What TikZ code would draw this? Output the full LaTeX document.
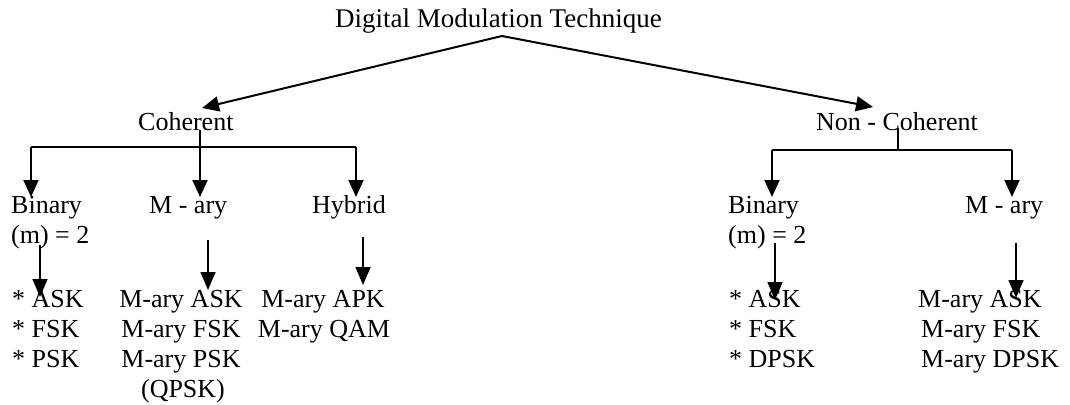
\documentclass[tikz,border=0pt]{standalone}
\usepackage{fontspec}
\setmainfont{Liberation Serif}
\usetikzlibrary{arrows.meta}
\begin{document}
\begin{tikzpicture}[x=1pt,y=-1pt,
  font=\fontsize{26}{30}\selectfont,
  lab/.style={inner sep=0pt,anchor=base west},
  labc/.style={inner sep=0pt,anchor=base},
  conn/.style={line width=2pt},
  arr/.style={line width=2pt,-{Triangle[length=17pt,width=15pt]}},
  thinarr/.style={line width=1.6pt,-{Triangle[length=18pt,width=15pt]}}]
\useasboundingbox (0,0) rectangle (1070,404);
% title
\node[lab,font=\fontsize{27}{30}\selectfont] (title) at (335,28) {Digital Modulation Technique};
% level 1
\node[lab] (coh) at (138,130) {Coherent};
\node[lab] (ncoh) at (816,130) {Non - Coherent};
% level 2 coherent
\node[lab] (bin1a) at (11,213) {Binary};
\node[lab] (bin1b) at (11,243) {(m) = 2};
\node[lab] (mary1) at (149,213) {M - ary};
\node[lab] (hyb) at (312,213) {Hybrid};
% level 2 non-coherent
\node[lab] (bin2a) at (728,213) {Binary};
\node[lab] (bin2b) at (728,243) {(m) = 2};
\node[lab] (mary2) at (965,213) {M - ary};
% level 3 coherent
\node[lab] (c1) at (12,307) {* ASK};
\node[lab] (c2) at (12,337) {* FSK};
\node[lab] (c3) at (12,367) {* PSK};
\node[labc] (m1) at (181,307) {M-ary ASK};
\node[labc] (m2) at (181,337) {M-ary FSK};
\node[labc] (m3) at (181,367) {M-ary PSK};
\node[labc] (m4) at (183,397) {(QPSK)};
\node[labc] (h1) at (323,307) {M-ary APK};
\node[labc] (h2) at (324,337) {M-ary QAM};
% level 3 non-coherent
\node[lab] (n1) at (729,307) {* ASK};
\node[lab] (n2) at (729,337) {* FSK};
\node[lab] (n3) at (729,367) {* DPSK};
\node[lab] (nm1) at (918,307) {M-ary ASK};
\node[lab] (nm2) at (921,337) {M-ary FSK};
\node[lab] (nm3) at (921,367) {M-ary DPSK};
% connector points
\coordinate (ts) at (502,36);
\coordinate (cohin) at (202,108);
\coordinate (ncohin) at (873,107);
\coordinate (cohout) at (200,130);
\coordinate (cbl) at (31,147);
\coordinate (cbm) at (200,147);
\coordinate (cbr) at (356,147);
\coordinate (bin1in) at (31,197);
\coordinate (mary1in) at (200,197);
\coordinate (hybin) at (356,197);
\coordinate (ncohout) at (898,128);
\coordinate (nbm) at (898,150);
\coordinate (nbl) at (772,150);
\coordinate (nbr) at (1012,150);
\coordinate (bin2in) at (772,197);
\coordinate (mary2in) at (1012,197);
\coordinate (b1s) at (40,245);
\coordinate (b1t) at (40,297);
\coordinate (m1s) at (208,240);
\coordinate (m1t) at (208,290);
\coordinate (h1s) at (363,237);
\coordinate (h1t) at (363,285);
\coordinate (b2s) at (775,243);
\coordinate (b2t) at (775,300);
\coordinate (m2s) at (1016,243);
\coordinate (m2t) at (1016,298);
% connectors
\draw[arr] (ts) -- (cohin);
\draw[arr] (ts) -- (ncohin);
\draw[arr] (cohout) -- (mary1in);
\draw[conn] (cbl) -- (cbr);
\draw[arr] (cbl) -- (bin1in);
\draw[arr] (cbr) -- (hybin);
\draw[conn] (ncohout) -- (nbm);
\draw[conn] (nbl) -- (nbr);
\draw[arr] (nbl) -- (bin2in);
\draw[arr] (nbr) -- (mary2in);
\draw[thinarr] (b1s) -- (b1t);
\draw[thinarr] (m1s) -- (m1t);
\draw[thinarr] (h1s) -- (h1t);
\draw[thinarr] (b2s) -- (b2t);
\draw[thinarr] (m2s) -- (m2t);
\end{tikzpicture}
\end{document}
